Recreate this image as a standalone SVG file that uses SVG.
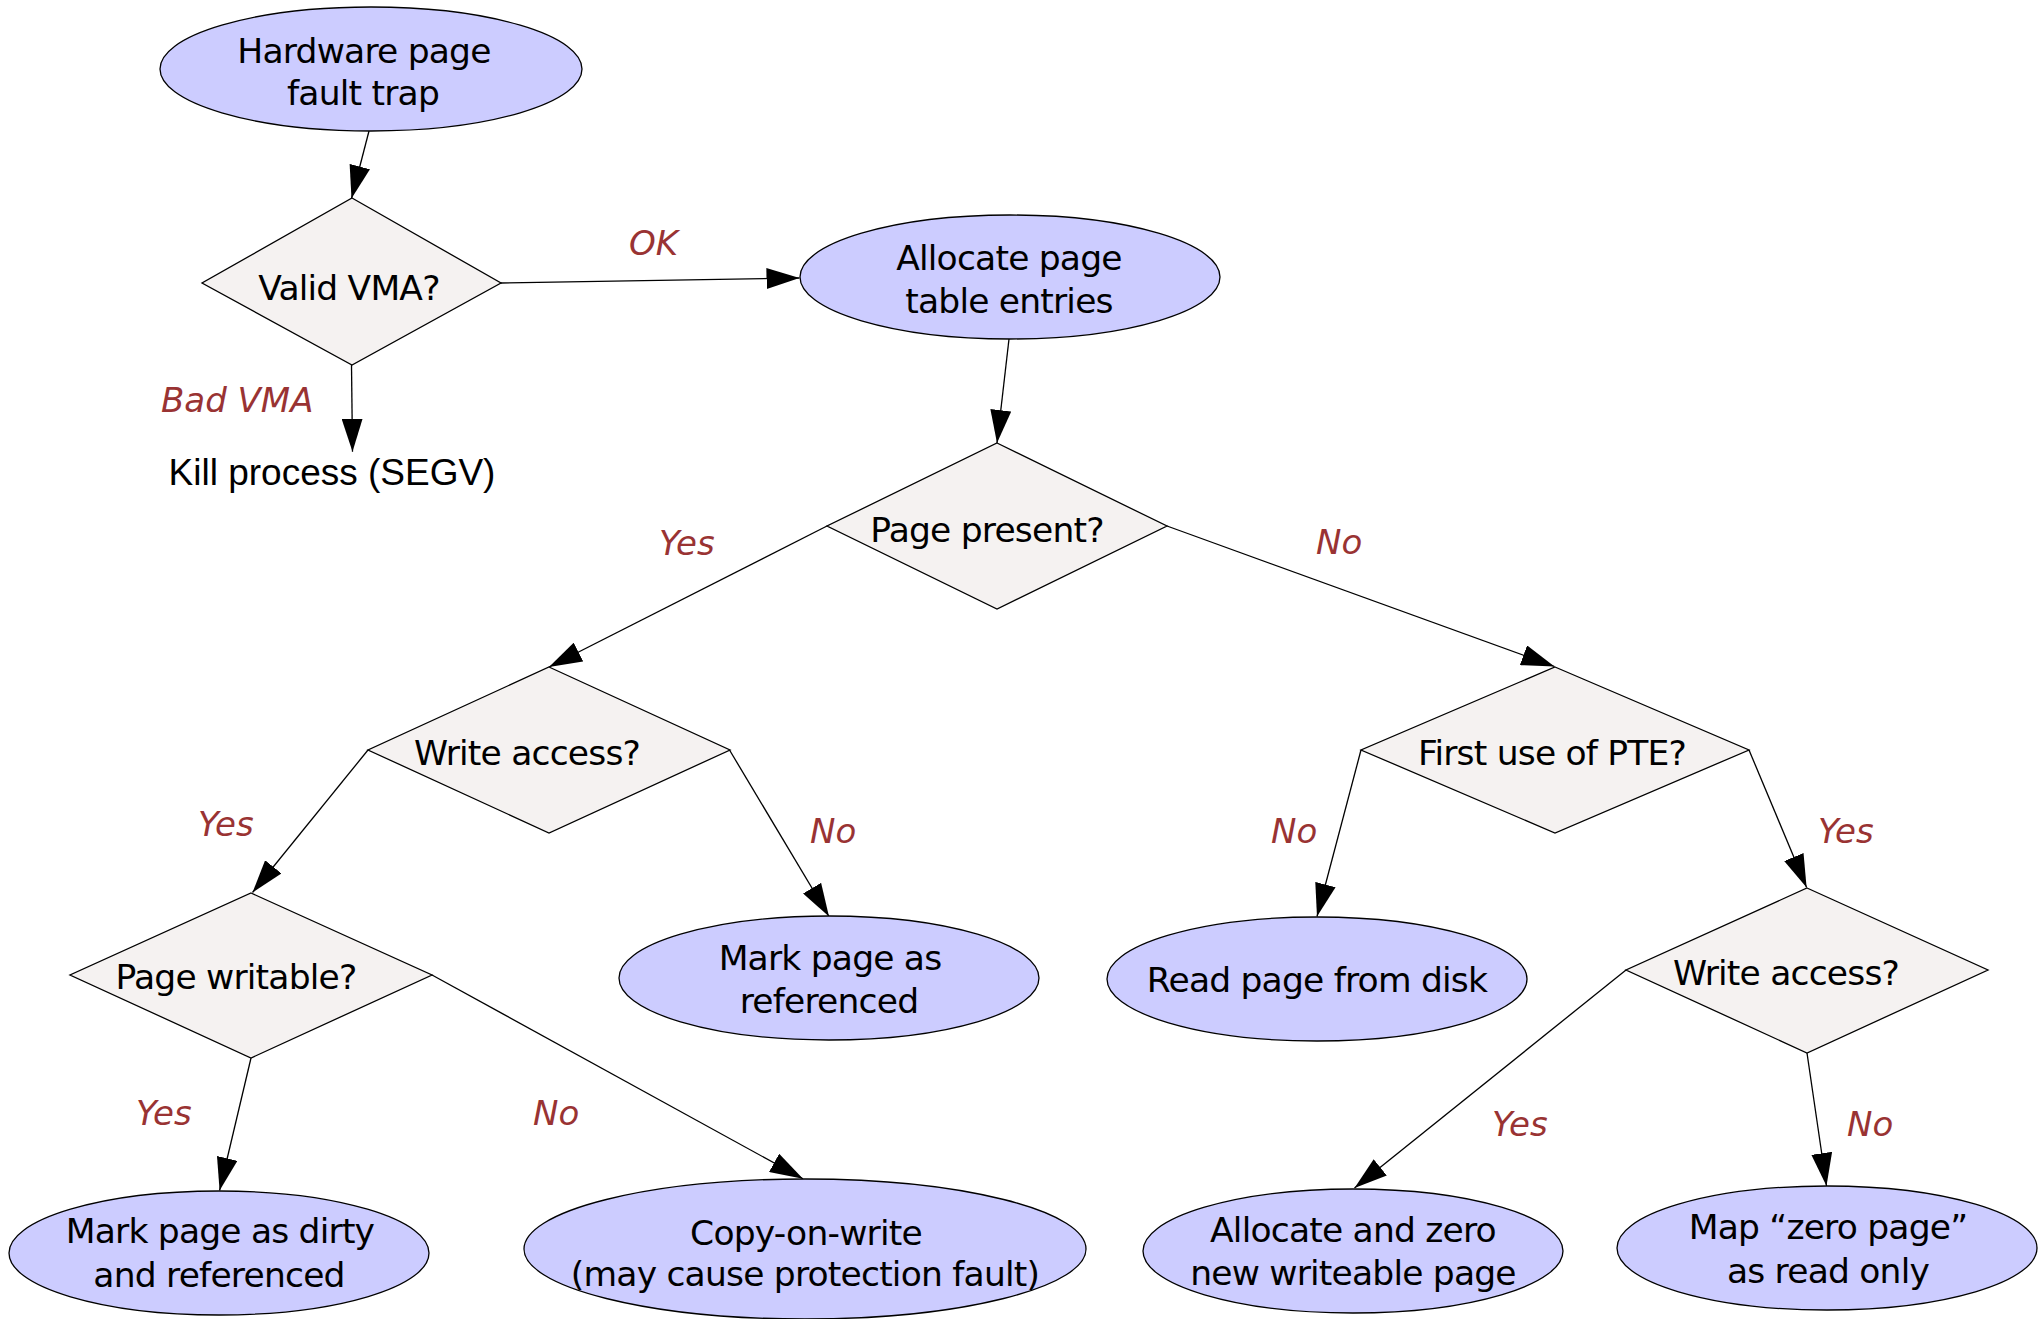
<svg xmlns="http://www.w3.org/2000/svg" width="2039" height="1319" viewBox="0 0 2039 1319">
  <style>
    .proc { fill: #ccccff; stroke: #000; stroke-width: 1.3; }
    .dec { fill: #f5f2f1; stroke: #000; stroke-width: 1.3; }
    .lbl { font-family: "DejaVu Sans", "Liberation Sans", sans-serif; font-size: 34.5px; letter-spacing: -0.8px; fill: #000; text-anchor: middle; }
    .plain { font-family: "Liberation Sans", Arial, sans-serif; font-size: 37px; fill: #000; text-anchor: middle; }
    .edge-lbl { font-family: "DejaVu Sans", "Liberation Sans", sans-serif; font-size: 34px; font-style: italic; fill: #993333; }
    .edge { stroke: #000; stroke-width: 1.3; fill: none; marker-end: url(#arrow); }
  </style>
  <defs>
    <marker id="arrow" viewBox="0 0 33 21" refX="33" refY="10.5" markerWidth="33" markerHeight="21" markerUnits="userSpaceOnUse" orient="auto">
      <path d="M0,0 L33,10.5 L0,21 Z" fill="#000"/>
    </marker>
  </defs>
  <rect width="2039" height="1319" fill="#fff"/>

  <!-- connectors -->
  <g id="edges">
    <line class="edge" x1="369" y1="131" x2="351.5" y2="198.5"/>
    <line class="edge" x1="351.5" y1="365" x2="352.5" y2="451.7"/>
    <line class="edge" x1="501" y1="283" x2="799.5" y2="278"/>
    <line class="edge" x1="1009" y1="339" x2="997" y2="443"/>
    <line class="edge" x1="827" y1="526" x2="549" y2="667"/>
    <line class="edge" x1="1167" y1="526" x2="1554.5" y2="666.5"/>
    <line class="edge" x1="368" y1="750" x2="252.5" y2="892.5"/>
    <line class="edge" x1="729.5" y1="750" x2="829" y2="916.5"/>
    <line class="edge" x1="1361" y1="750" x2="1317" y2="916.5"/>
    <line class="edge" x1="1749" y1="750" x2="1806.6" y2="887.5"/>
    <line class="edge" x1="251" y1="1058" x2="219.6" y2="1190.5"/>
    <line class="edge" x1="432" y1="975" x2="803" y2="1178.8"/>
    <line class="edge" x1="1626" y1="970" x2="1354.5" y2="1188"/>
    <line class="edge" x1="1807" y1="1053" x2="1826.5" y2="1186"/>

    <text class="edge-lbl" x="629" y="255">OK</text>
    <text class="edge-lbl" x="161" y="412">Bad VMA</text>
    <text class="edge-lbl" x="659" y="555">Yes</text>
    <text class="edge-lbl" x="1316" y="554">No</text>
    <text class="edge-lbl" x="198" y="836">Yes</text>
    <text class="edge-lbl" x="810" y="843">No</text>
    <text class="edge-lbl" x="1271" y="843">No</text>
    <text class="edge-lbl" x="1818" y="843">Yes</text>
    <text class="edge-lbl" x="136" y="1125">Yes</text>
    <text class="edge-lbl" x="533" y="1125">No</text>
    <text class="edge-lbl" x="1492" y="1136">Yes</text>
    <text class="edge-lbl" x="1847" y="1136">No</text>
  </g>

  <g id="trap">
    <ellipse class="proc" cx="371" cy="69" rx="211" ry="62"/>
    <text class="lbl" x="364" y="63">Hardware page</text>
    <text class="lbl" x="363" y="105">fault trap</text>
  </g>

  <g id="valid-vma">
    <polygon class="dec" points="352,198 501,283 352,365 202,283"/>
    <text class="lbl" x="349" y="300">Valid VMA?</text>
  </g>

  <g id="kill">
    <text class="plain" x="332" y="485">Kill process (SEGV)</text>
  </g>

  <g id="alloc-pte">
    <ellipse class="proc" cx="1010" cy="277" rx="210" ry="62"/>
    <text class="lbl" x="1009" y="270">Allocate page</text>
    <text class="lbl" x="1009" y="313">table entries</text>
  </g>

  <g id="page-present">
    <polygon class="dec" points="997,443 1167,526 997,609 827,526"/>
    <text class="lbl" x="987" y="542">Page present?</text>
  </g>

  <g id="write-access-1">
    <polygon class="dec" points="549,667 730,750 549,833 368,750"/>
    <text class="lbl" x="527" y="765">Write access?</text>
  </g>

  <g id="first-use">
    <polygon class="dec" points="1555,667 1749,750 1555,833 1361,750"/>
    <text class="lbl" x="1552" y="765">First use of PTE?</text>
  </g>

  <g id="page-writable">
    <polygon class="dec" points="251,893 432,975 251,1058 70,975"/>
    <text class="lbl" x="236" y="989">Page writable?</text>
  </g>

  <g id="mark-referenced">
    <ellipse class="proc" cx="829" cy="978" rx="210" ry="62"/>
    <text class="lbl" x="830" y="970">Mark page as</text>
    <text class="lbl" x="829" y="1013">referenced</text>
  </g>

  <g id="read-disk">
    <ellipse class="proc" cx="1317" cy="979" rx="210" ry="62"/>
    <text class="lbl" x="1317" y="992">Read page from disk</text>
  </g>

  <g id="write-access-2">
    <polygon class="dec" points="1807,888 1988,970 1807,1053 1626,970"/>
    <text class="lbl" x="1786" y="985">Write access?</text>
  </g>

  <g id="mark-dirty">
    <ellipse class="proc" cx="219" cy="1253" rx="210" ry="62"/>
    <text class="lbl" x="220" y="1243">Mark page as dirty</text>
    <text class="lbl" x="219" y="1287">and referenced</text>
  </g>

  <g id="copy-on-write">
    <ellipse class="proc" cx="805" cy="1249" rx="281" ry="70"/>
    <text class="lbl" x="806" y="1245">Copy-on-write</text>
    <text class="lbl" x="805" y="1286">(may cause protection fault)</text>
  </g>

  <g id="alloc-zero">
    <ellipse class="proc" cx="1353" cy="1251" rx="210" ry="62"/>
    <text class="lbl" x="1353" y="1242">Allocate and zero</text>
    <text class="lbl" x="1353" y="1285">new writeable page</text>
  </g>

  <g id="map-zero">
    <ellipse class="proc" cx="1827" cy="1248" rx="210" ry="62"/>
    <text class="lbl" x="1828" y="1239">Map “zero page”</text>
    <text class="lbl" x="1828" y="1283">as read only</text>
  </g>
</svg>
